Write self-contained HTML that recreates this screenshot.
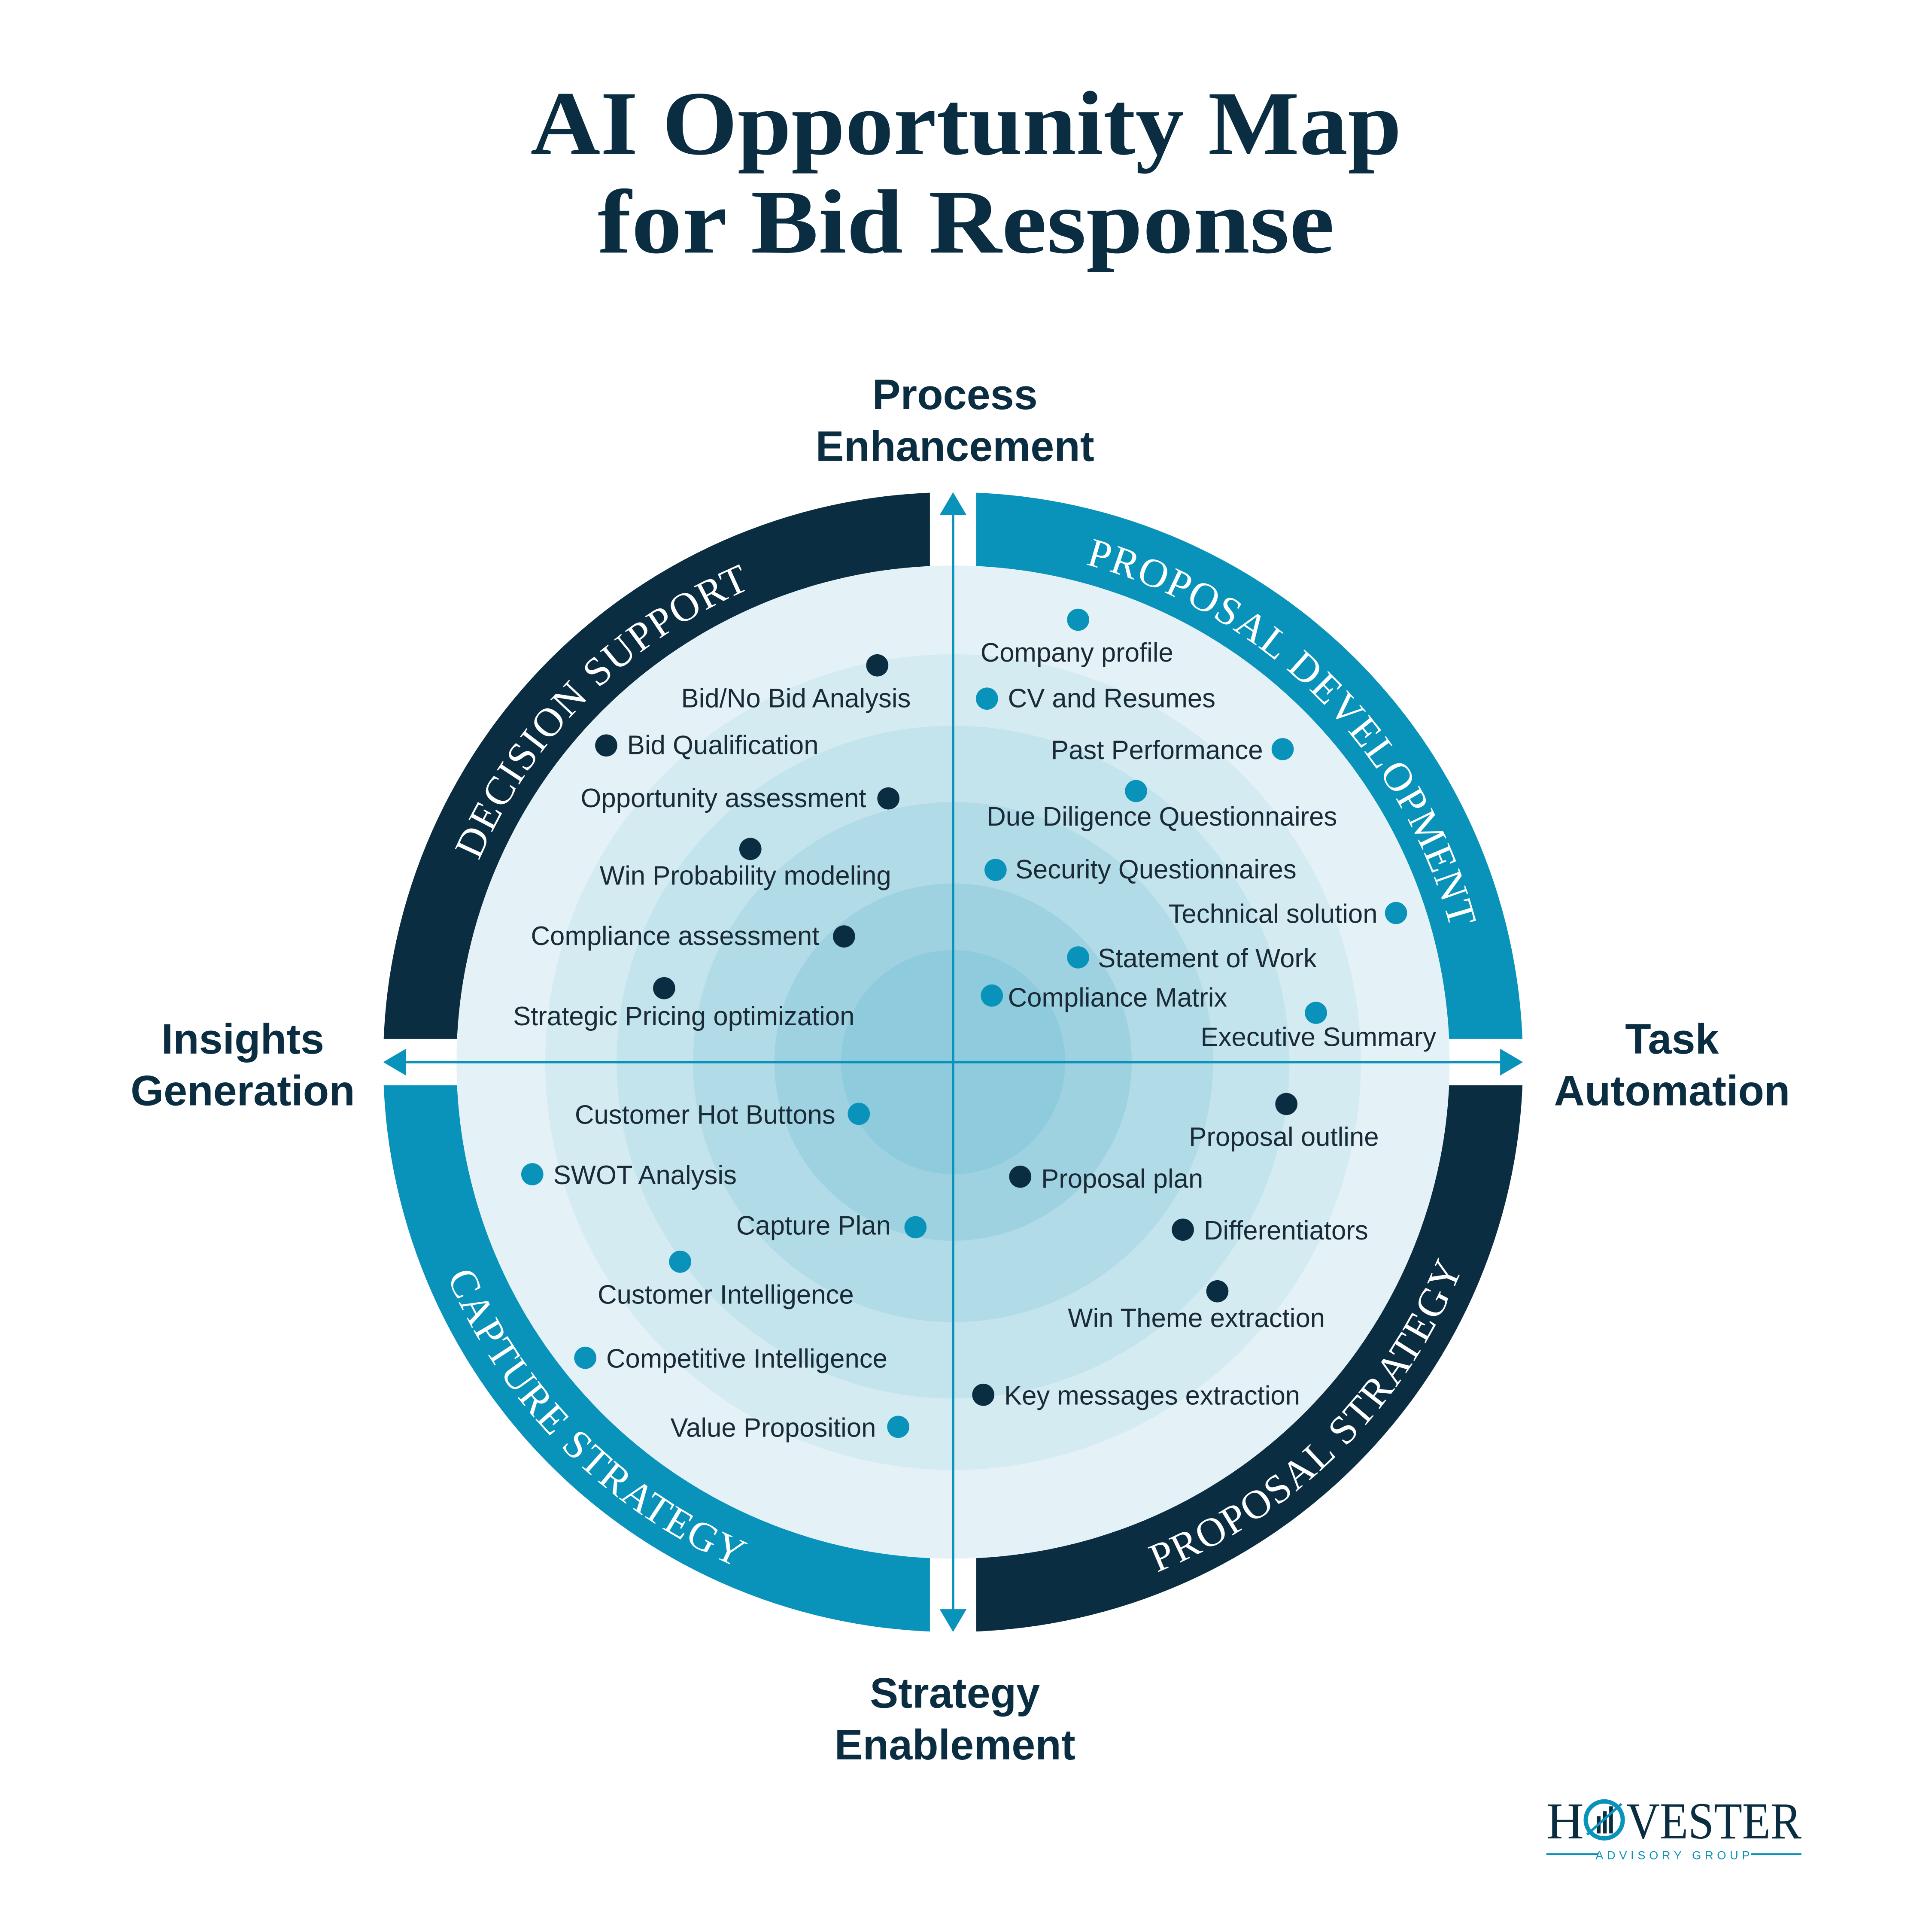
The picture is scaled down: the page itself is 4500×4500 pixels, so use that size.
<!DOCTYPE html>
<html><head><meta charset="utf-8"><style>
html,body{margin:0;padding:0;background:#fff;}
svg{display:block;}
</style></head><body>
<svg width="4500" height="4500" viewBox="0 0 1568 1568" xmlns="http://www.w3.org/2000/svg">
<rect width="1568" height="1568" fill="#fff"/>
<g font-family="'Liberation Serif', serif" font-weight="bold" fill="#0b2d42" text-anchor="middle" font-size="74">
<text x="784" y="125" textLength="707" lengthAdjust="spacingAndGlyphs">AI Opportunity Map</text>
<text x="784" y="205" textLength="598" lengthAdjust="spacingAndGlyphs">for Bid Response</text>
</g>
<g font-family="'Liberation Sans', sans-serif" font-weight="bold" fill="#0b2d42" text-anchor="middle" font-size="34.5">
<text x="775" y="332">Process</text><text x="775" y="374">Enhancement</text>
<text x="197" y="855">Insights</text><text x="197" y="897">Generation</text>
<text x="1357" y="855">Task</text><text x="1357" y="897">Automation</text>
<text x="775" y="1386">Strategy</text><text x="775" y="1428">Enablement</text>
</g>
<path d="M 311 862 A 462.5 462.5 0 0 1 773.5 399.5 L 773.5 459 A 403 403 0 0 0 370.5 862 Z" fill="#0b2d42"/>
<path d="M 773.5 399.5 A 462.5 462.5 0 0 1 1236 862 L 1176.5 862 A 403 403 0 0 0 773.5 459 Z" fill="#0993ba"/>
<path d="M 1236 862 A 462.5 462.5 0 0 1 773.5 1324.5 L 773.5 1265 A 403 403 0 0 0 1176.5 862 Z" fill="#0b2d42"/>
<path d="M 773.5 1324.5 A 462.5 462.5 0 0 1 311 862 L 370.5 862 A 403 403 0 0 0 773.5 1265 Z" fill="#0993ba"/>
<rect x="754.7" y="390" width="37.6" height="80" fill="#fff"/>
<rect x="754.7" y="1255" width="37.6" height="80" fill="#fff"/>
<rect x="300" y="843.2" width="80" height="37.6" fill="#fff"/>
<rect x="1167" y="843.2" width="80" height="37.6" fill="#fff"/>
<circle cx="773.5" cy="862" r="403" fill="#e4f2f7"/>
<circle cx="773.5" cy="862" r="331" fill="#d4ebf2"/>
<circle cx="773.5" cy="862" r="273" fill="#c3e3ed"/>
<circle cx="773.5" cy="862" r="211" fill="#b1dbe7"/>
<circle cx="773.5" cy="862" r="145" fill="#9fd2e1"/>
<circle cx="773.5" cy="862" r="91" fill="#8ecbdc"/>
<defs>
<path id="ptl" d="M 355.5 862 A 418 418 0 0 1 773.5 444"/>
<path id="ptr" d="M 773.5 444 A 418 418 0 0 1 1191.5 862"/>
<path id="pbl" d="M 327.5 862 A 446 446 0 0 0 773.5 1308"/>
<path id="pbr" d="M 773.5 1308 A 446 446 0 0 0 1219.5 862"/>
</defs>
<g font-family="'Liberation Serif', serif" fill="#fff" font-size="33" letter-spacing="1">
<text><textPath href="#ptl" startOffset="50%" text-anchor="middle">DECISION SUPPORT</textPath></text>
<text><textPath href="#ptr" startOffset="50%" text-anchor="middle">PROPOSAL DEVELOPMENT</textPath></text>
<text><textPath href="#pbl" startOffset="50%" text-anchor="middle">CAPTURE STRATEGY</textPath></text>
<text><textPath href="#pbr" startOffset="50%" text-anchor="middle">PROPOSAL STRATEGY</textPath></text>
</g>
<g fill="#0993ba" stroke="none">
<rect x="772.5" y="415" width="2" height="894"/>
<rect x="326" y="861" width="895" height="2"/>
<polygon points="773.5,399.5 762.6,418 784.4,418"/>
<polygon points="773.5,1324.5 762.6,1306 784.4,1306"/>
<polygon points="311,862 329.5,851.1 329.5,872.9"/>
<polygon points="1236,862 1217.5,851.1 1217.5,872.9"/>
</g>
<g fill="#0b2d42">
<circle cx="712" cy="540" r="9"/><circle cx="492" cy="605" r="9"/><circle cx="721" cy="648" r="9"/>
<circle cx="609" cy="689" r="9"/><circle cx="685" cy="760" r="9"/><circle cx="539" cy="802" r="9"/>
<circle cx="1044" cy="896" r="9"/><circle cx="828" cy="955" r="9"/><circle cx="960" cy="998" r="9"/>
<circle cx="988" cy="1048" r="9"/><circle cx="798" cy="1132" r="9"/>
</g>
<g fill="#0993ba">
<circle cx="875" cy="503" r="9"/><circle cx="801" cy="567" r="9"/><circle cx="1041" cy="608" r="9"/>
<circle cx="922" cy="642" r="9"/><circle cx="808" cy="706" r="9"/><circle cx="1133" cy="741" r="9"/>
<circle cx="875" cy="777" r="9"/><circle cx="805" cy="808" r="9"/><circle cx="1068" cy="822" r="9"/>
<circle cx="697" cy="904" r="9"/><circle cx="432" cy="953" r="9"/><circle cx="743" cy="996" r="9"/>
<circle cx="552" cy="1024" r="9"/><circle cx="475" cy="1102" r="9"/><circle cx="729" cy="1158" r="9"/>
</g>
<g font-family="'Liberation Sans', sans-serif" fill="#1a2a36" font-size="21.5">
<text x="646" y="574" text-anchor="middle">Bid/No Bid Analysis</text>
<text x="509" y="612">Bid Qualification</text>
<text x="703" y="655" text-anchor="end">Opportunity assessment</text>
<text x="605" y="718" text-anchor="middle">Win Probability modeling</text>
<text x="665" y="767" text-anchor="end">Compliance assessment</text>
<text x="555" y="832" text-anchor="middle">Strategic Pricing optimization</text>
<text x="874" y="537" text-anchor="middle">Company profile</text>
<text x="818" y="574">CV and Resumes</text>
<text x="1025" y="616" text-anchor="end">Past Performance</text>
<text x="943" y="670" text-anchor="middle">Due Diligence Questionnaires</text>
<text x="824" y="713">Security Questionnaires</text>
<text x="1118" y="749" text-anchor="end">Technical solution</text>
<text x="891" y="785">Statement of Work</text>
<text x="818" y="817">Compliance Matrix</text>
<text x="1070" y="849" text-anchor="middle">Executive Summary</text>
<text x="678" y="912" text-anchor="end">Customer Hot Buttons</text>
<text x="449" y="961">SWOT Analysis</text>
<text x="723" y="1002" text-anchor="end">Capture Plan</text>
<text x="589" y="1058" text-anchor="middle">Customer Intelligence</text>
<text x="492" y="1110">Competitive Intelligence</text>
<text x="711" y="1166" text-anchor="end">Value Proposition</text>
<text x="1042" y="930" text-anchor="middle">Proposal outline</text>
<text x="845" y="964">Proposal plan</text>
<text x="977" y="1006">Differentiators</text>
<text x="971" y="1077" text-anchor="middle">Win Theme extraction</text>
<text x="815" y="1140">Key messages extraction</text>
</g>
<g>
<text x="1255" y="1492" font-family="'Liberation Serif', serif" font-size="42" fill="#0b2d42">H</text>
<circle cx="1302" cy="1477" r="15" fill="none" stroke="#0993ba" stroke-width="3.5"/>
<rect x="1296" y="1474" width="3" height="14" fill="#0b2d42"/>
<rect x="1301" y="1470" width="3" height="18" fill="#0b2d42"/>
<rect x="1306" y="1466" width="3" height="22" fill="#0b2d42"/>
<line x1="1288" y1="1489" x2="1316" y2="1464" stroke="#0993ba" stroke-width="2"/>
<text x="1320" y="1492" font-family="'Liberation Serif', serif" font-size="42" fill="#0b2d42" textLength="142" lengthAdjust="spacingAndGlyphs">VESTER</text>
<rect x="1255" y="1504" width="42" height="1.5" fill="#0993ba"/>
<rect x="1421" y="1504" width="41" height="1.5" fill="#0993ba"/>
<text x="1359" y="1509" text-anchor="middle" font-family="'Liberation Sans', sans-serif" font-size="9.5" fill="#0993ba" letter-spacing="3">ADVISORY GROUP</text>
</g>
</svg>
</body></html>
